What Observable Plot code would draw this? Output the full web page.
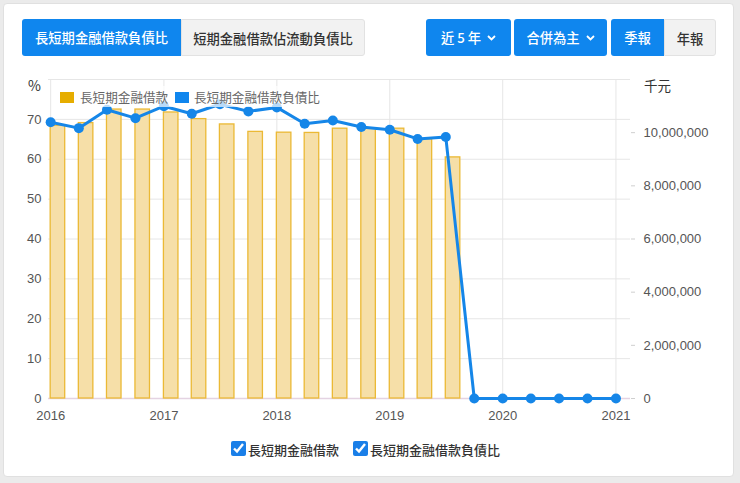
<!DOCTYPE html>
<html>
<head>
<meta charset="utf-8">
<script src="https://cdn.jsdelivr.net/npm/d3@7"></script>
<script src="https://cdn.jsdelivr.net/npm/@observablehq/plot@0.6"></script>
<style>
  html, body { margin: 0; padding: 0; }
  body { width: 740px; height: 483px; background: #ebebeb; position: relative; overflow: hidden;
         font-family: "Helvetica Neue", Arial, "Liberation Sans", "Noto Sans CJK TC", sans-serif; }
  .card { position: absolute; left: 3px; top: 3px; width: 731px; height: 474px; background: #fff;
          border-radius: 4px; border: 1px solid #e0e0e0; box-sizing: border-box; }
  .btn { position: absolute; top: 19px; height: 37px; line-height: 37px; text-align: center;
         font-family: "Noto Sans CJK TC", sans-serif; font-size: 13.3px; font-weight: 500; box-sizing: border-box; }
  .blue { background: #0f86ee; color: #fff; border-radius: 3px; }
  .gray { background: #f2f2f2; color: #333; border: 1px solid #e2e2e2; border-radius: 3px; }
  .chev { display: inline-block; vertical-align: middle; margin-left: 6px; margin-top: -3px; }
  #chart { position: absolute; left: 0; top: 60px; }
  .axlab { position: absolute; font-family: "Noto Sans CJK TC", sans-serif; color: #333; }
  .leg { position: absolute; left: 55px; top: 86px; width: 272px; height: 21px; background: rgba(255,255,255,0.7);
         font-family: "Noto Sans CJK TC", sans-serif; font-size: 12.6px; color: #666; }
  .leg span.sw { position: absolute; top: 6px; width: 14px; height: 11px; }
  .leg span.t { position: absolute; top: 1px; white-space: nowrap; }
  .blegend { position: absolute; top: 440px; font-family: "Noto Sans CJK TC", sans-serif; font-size: 13px; color: #333; font-weight: 500; }
  .blegend input { position: absolute; margin: 0; width: 15px; height: 15px; accent-color: #1a7fe8; top: 1px; }
  .blegend span { position: absolute; white-space: nowrap; top: 0px; }
</style>
</head>
<body>
<div class="card"></div>

<div class="btn blue" style="left:22px;width:159px;border-radius:3px 0 0 3px;">長短期金融借款負債比</div>
<div class="btn gray" style="left:181px;width:184px;border-radius:0 3px 3px 0;">短期金融借款佔流動負債比</div>

<div class="btn blue" style="left:426px;width:85px;">近 5 年<svg class="chev" width="9" height="6"><polyline points="1,1 4.5,4.5 8,1" fill="none" stroke="#fff" stroke-width="1.8"/></svg></div>
<div class="btn blue" style="left:514px;width:93px;">合併為主<svg class="chev" width="9" height="6"><polyline points="1,1 4.5,4.5 8,1" fill="none" stroke="#fff" stroke-width="1.8"/></svg></div>
<div class="btn blue" style="left:611px;width:53px;border-radius:3px 0 0 3px;">季報</div>
<div class="btn gray" style="left:664px;width:52px;border-radius:0 3px 3px 0;">年報</div>

<div id="chart"></div>

<div class="axlab" style="left:28px;top:75px;font-size:14px;">%</div>
<div class="axlab" style="left:644px;top:75px;font-size:13.5px;">千元</div>

<div class="leg">
  <span class="sw" style="left:5px;background:#e6ad00;"></span>
  <span class="t" style="left:25px;">長短期金融借款</span>
  <span class="sw" style="left:120px;background:#0f86ee;"></span>
  <span class="t" style="left:139px;">長短期金融借款負債比</span>
</div>

<div class="blegend" style="left:231px;"><input type="checkbox" checked><span style="left:17px;">長短期金融借款</span></div>
<div class="blegend" style="left:353px;"><input type="checkbox" checked><span style="left:17px;">長短期金融借款負債比</span></div>

<script>
// ---- data ----
const quarterLabels = ["2016Q1","2016Q2","2016Q3","2016Q4","2017Q1","2017Q2","2017Q3","2017Q4",
  "2018Q1","2018Q2","2018Q3","2018Q4","2019Q1","2019Q2","2019Q3","2019Q4",
  "2020Q1","2020Q2","2020Q3","2020Q4","2021Q1"];
// 長短期金融借款 (千元)
const borrowings = [10260000, 10360000, 10870000, 10870000, 10760000, 10510000, 10310000, 10030000,
  10000000, 9990000, 10150000, 10150000, 10150000, 9750000, 9070000, 0,
  0, 0, 0, 0, 0];
// 長短期金融借款負債比 (%)
const debtRatio = [69.3, 67.8, 72.4, 70.3, 73.3, 71.4, 73.8, 72.0,
  73.0, 68.9, 69.7, 68.1, 67.4, 65.1, 65.6, 0,
  0, 0, 0, 0, 0];
const yearTicks = [2016, 2017, 2018, 2019, 2020, 2021];
const leftTicks = [0, 10, 20, 30, 40, 50, 60, 70];
const leftGrid = [0, 10, 20, 30, 40, 50, 60, 70, 80];
const rightTicks = [0, 2000000, 4000000, 6000000, 8000000, 10000000];
const leftMax = 80;
const rightMax = 12000000;

// ---- build ----
const k = leftMax / rightMax;
const toDate = q => new Date(Date.UTC(+q.slice(0, 4), (+q.slice(5) - 1) * 3, 1));
const data = quarterLabels.map((q, i) => ({date: toDate(q), borrow: borrowings[i], ratio: debtRatio[i]}));
const yearDates = yearTicks.map(y => new Date(Date.UTC(y, 0, 1)));
const barDays = 47;
const blue = "#1586e8";

const chart = Plot.plot({
  width: 740,
  height: 370,
  marginLeft: 48,
  marginRight: 110,
  marginTop: 19,
  marginBottom: 32,
  style: {fontSize: "13px", fontFamily: "'Helvetica Neue', Arial, 'Liberation Sans', sans-serif", color: "#555", background: "transparent"},
  x: {type: "utc", domain: [new Date(Date.UTC(2015, 11, 25)), new Date(Date.UTC(2021, 1, 17))]},
  y: {domain: [0, leftMax]},
  marks: [
    Plot.gridY(leftGrid, {stroke: "#e6e6e6", strokeOpacity: 1}),
    Plot.gridX(yearDates, {stroke: "#e6e6e6", strokeOpacity: 1}),
    Plot.ruleY([0], {stroke: "#e4d3e2", strokeWidth: 1.5}),
    Plot.rectY(data, {
      x1: "date",
      x2: d => d3.utcDay.offset(d.date, barDays),
      y1: 0,
      y2: d => d.borrow * k,
      fill: "#f6dfa8",
      stroke: "#ebb935",
      strokeWidth: 1.3
    }),
    Plot.line(data, {x: "date", y: "ratio", stroke: blue, strokeWidth: 3}),
    Plot.dot(data, {x: "date", y: "ratio", r: 5, fill: blue, stroke: "none"}),
    Plot.axisX(yearDates, {tickSize: 0, tickPadding: 12, tickFormat: d3.utcFormat("%Y"), label: null, fill: "#555"}),
    Plot.axisY(leftTicks, {anchor: "left", tickSize: 0, tickPadding: 7, label: null, fill: "#555"}),
    Plot.axisY(rightTicks.map(v => v * k), {
      anchor: "right", tickSize: 4, tickPadding: 9, label: null,
      stroke: "#cfcfcf", fill: "#555",
      tickFormat: d => d3.format(",")(Math.round(d / k))
    })
  ]
});
document.getElementById("chart").appendChild(chart);
</script>
</body>
</html>
